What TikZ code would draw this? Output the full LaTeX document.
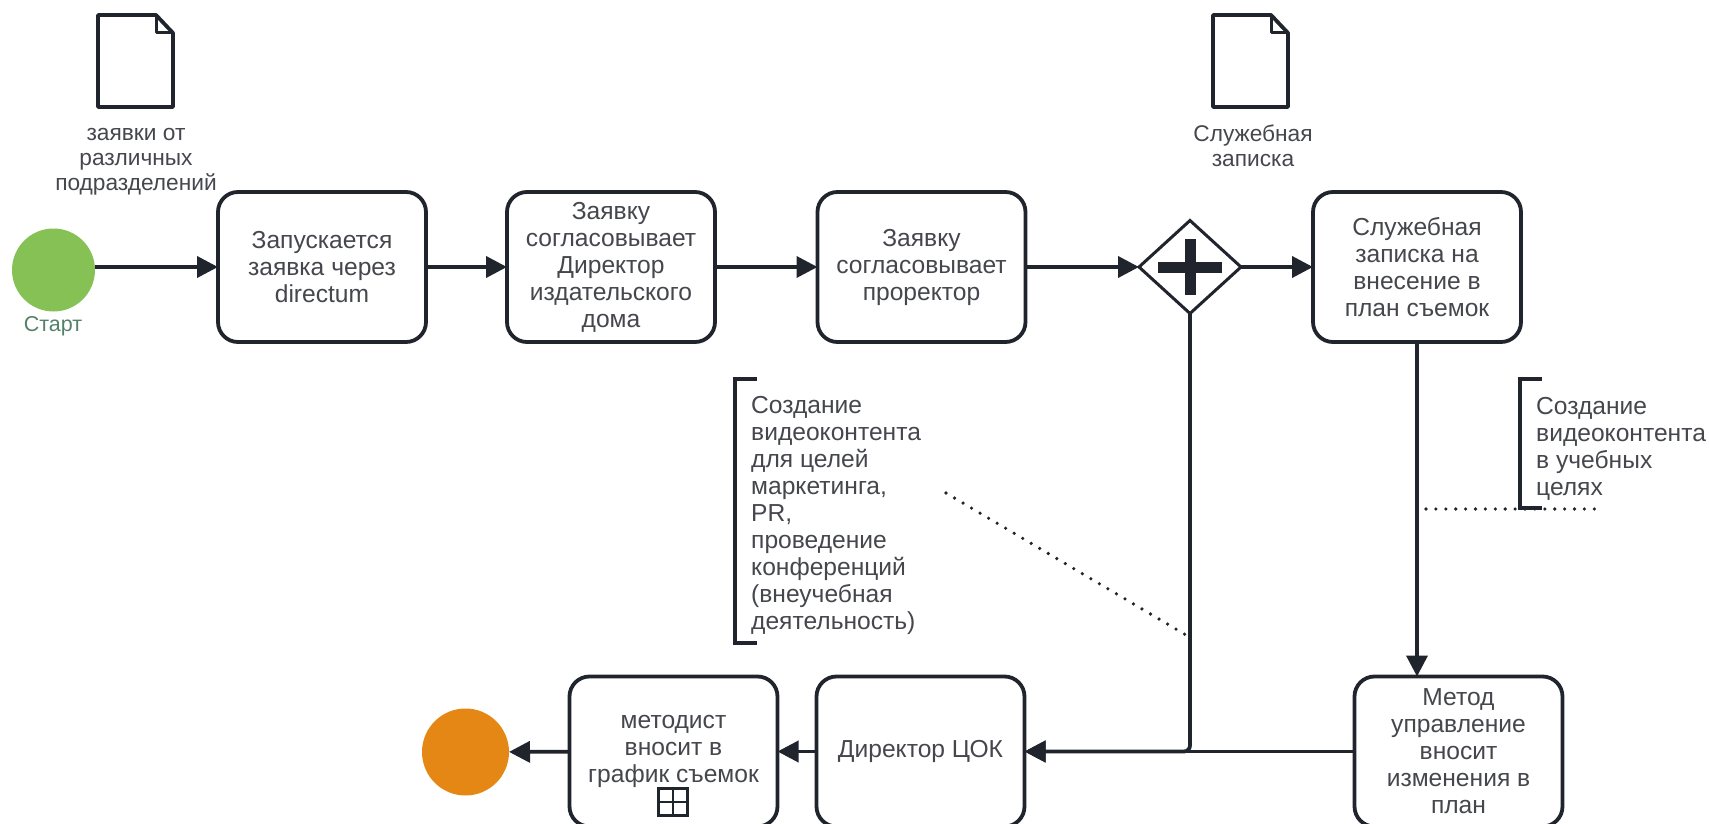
\documentclass[tikz,border=0pt]{standalone}
\usepackage{fontspec}
\setmainfont{Liberation Sans}
\usepackage{xcolor}
\usetikzlibrary{arrows.meta,shapes.geometric}
\definecolor{FlowInk}{HTML}{20242c}
\definecolor{TextGrey}{HTML}{45474d}
\definecolor{StartGreen}{HTML}{85c155}
\definecolor{StartText}{HTML}{55806a}
\definecolor{EndOrange}{HTML}{e58714}
\tikzset{
    taskbox/.style={draw=FlowInk,line width=3.8pt,rounded corners=20pt,fill=white,minimum width=208pt,
        minimum height=150pt,inner sep=0pt,outer sep=0pt,align=center,text=TextGrey,
        font=\fontsize{24.6}{27}\selectfont},
    flowline/.style={draw=FlowInk,line width=3.8pt,-{Triangle[length=21pt,width=21pt]}},
    dotline/.style={draw=FlowInk,line width=3.6pt,line cap=round,dash pattern=on 0pt off 9.9pt},
    noteline/.style={draw=FlowInk,line width=3.8pt},
    notetext/.style={anchor=west,inner sep=0pt,align=left,text=TextGrey,font=\fontsize{24.6}{27}\selectfont},
    doclabel/.style={inner sep=0pt,align=center,text=TextGrey,font=\fontsize{22.7}{25}\selectfont},
    docicon/.pic={
        \draw[noteline,line join=round] (0,0) -- (58,0) -- (75,18) -- (75,92) -- (0,92) -- cycle;
        \draw[noteline,line width=3pt,line join=round] (58,0) -- (58,18) -- (75,18);
    }
}
\begin{document}
\begin{tikzpicture}[x=1pt,y=-1pt]
    \useasboundingbox (0,0) rectangle (1709,824);

    \pic at (98,15) {docicon};
    \pic at (1213,15) {docicon};
    \node[doclabel] (reqlabel) at (136,162) {заявки от\\различных\\подразделений};
    \node[doclabel] (memolabel) at (1253,146) {Служебная\\записка};

    \node[circle,fill=StartGreen,minimum size=83pt,inner sep=0pt,outer sep=0pt] (start) at (53.5,270) {};
    \node[inner sep=0pt,text=StartText,font=\fontsize{21.5}{24.5}\selectfont] (startlabel) at (53,326) {Старт};

    \node[taskbox] (launch) at (322,267) {Запускается\\заявка через\\directum};
    \node[taskbox] (director) at (611,267) {Заявку\\согласовывает\\Директор\\издательского\\дома};
    \node[taskbox] (vicerector) at (921.5,267) {Заявку\\согласовывает\\проректор};
    \node[diamond,draw=FlowInk,line width=3pt,fill=white,minimum width=102pt,minimum height=93pt,inner sep=0pt,outer sep=0pt] (gate) at (1190,267) {};
    \node[taskbox] (memo) at (1417,267) {Служебная\\записка на\\внесение в\\план съемок};

    \node[taskbox] (method) at (1458.5,751.5) {Метод\\управление\\вносит\\изменения в\\план};
    \node[taskbox] (head) at (920.5,751.5) {Директор ЦОК};
    \node[taskbox] (scheduler) at (673.5,751.5) {методист\\вносит в\\график съемок};
    \node[circle,fill=EndOrange,minimum size=87pt,inner sep=0pt,outer sep=0pt] (finish) at (465.5,752) {};
    \node[draw=FlowInk,line width=2.5pt,minimum width=29pt,minimum height=27pt,inner sep=0pt,outer sep=0pt] (submark) at (673,802) {};

    \draw[FlowInk,line width=11pt] ([xshift=-32pt]gate.center) -- ([xshift=32pt]gate.center);
    \draw[FlowInk,line width=11pt] ([yshift=-28pt]gate.center) -- ([yshift=28pt]gate.center);
    \draw[noteline,line width=2.5pt] (submark.north) -- (submark.south);
    \draw[noteline,line width=2.5pt] (submark.west) -- (submark.east);

    \draw[flowline] (start.east |- launch.west) -- (launch.west);
    \draw[flowline] (launch) -- (director);
    \draw[flowline] (director) -- (vicerector);
    \draw[flowline] (vicerector) -- (gate);
    \draw[flowline] (gate) -- (memo);
    \draw[flowline] (memo.south) -- (memo.south |- method.north);
    \draw[flowline] (method) -- (head);
    \draw[flowline,rounded corners=6pt] (gate.south) |- (head.east);
    \draw[flowline] (head) -- (scheduler);
    \draw[flowline] (scheduler) -- (finish);

    \node[notetext] (marketnote) at (751,515) {Создание\\видеоконтента\\для целей\\маркетинга,\\PR,\\проведение\\конференций\\(внеучебная\\деятельность)};
    \node[notetext] (studynote) at (1536,448.5) {Создание\\видеоконтента\\в учебных\\целях};
    \draw[noteline] (757,379) -- (735,379) -- (735,643) -- (757,643);
    \draw[noteline] (1542,379) -- (1520,379) -- (1520,508) -- (1542,508);

    \coordinate (marketfrom) at (946,493);
    \coordinate (marketto) at (1186,635);
    \coordinate (studyfrom) at (1426,509);
    \coordinate (studyto) at (1597,509);
    \draw[dotline] (marketfrom) -- (marketto);
    \draw[dotline] (studyfrom) -- (studyto);
\end{tikzpicture}
\end{document}
